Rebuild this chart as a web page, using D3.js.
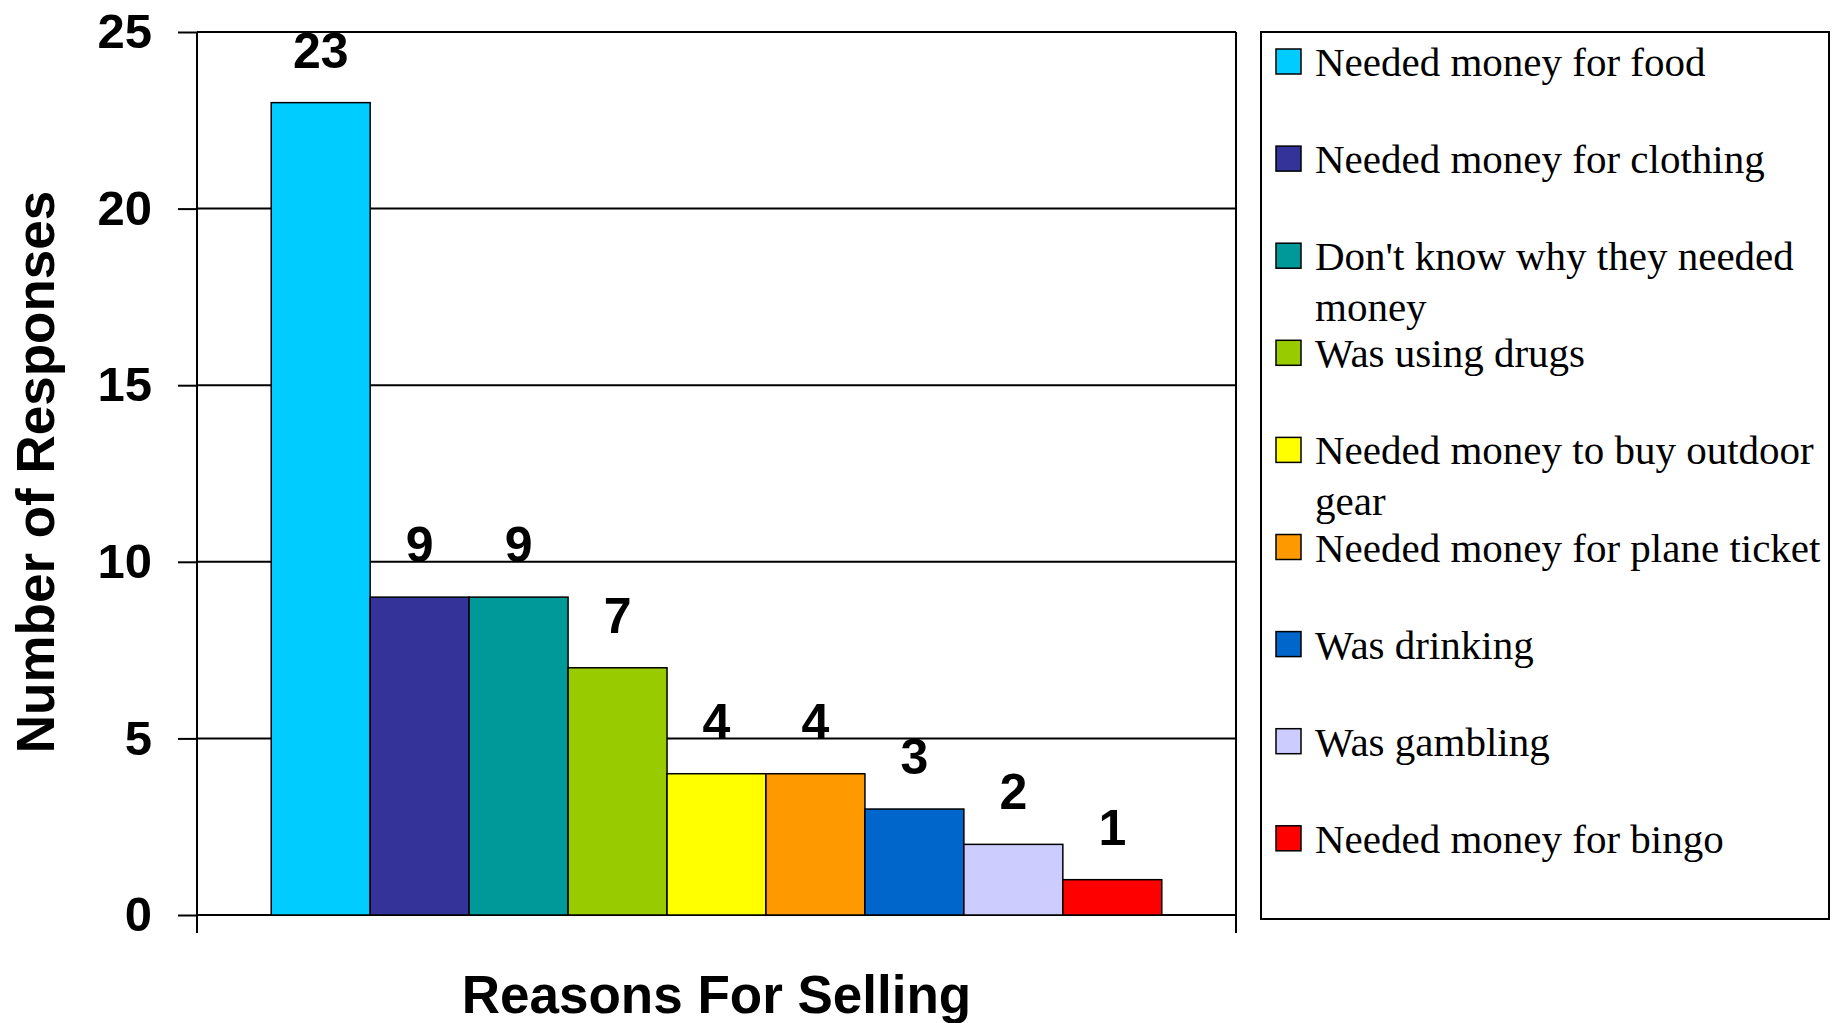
<!DOCTYPE html>
<html>
<head>
<meta charset="utf-8">
<script src="https://cdn.jsdelivr.net/npm/d3@7"></script>
<style>
  html, body { margin: 0; padding: 0; background: #fff; }
  svg { display: block; }
</style>
</head>
<body>
<svg id="chart" width="1837" height="1023"></svg>
<script>
// Reasons given for selling, with the number of responses for each
const reasons = [
  "Needed money for food",
  "Needed money for clothing",
  "Don't know why they needed money",
  "Was using drugs",
  "Needed money to buy outdoor gear",
  "Needed money for plane ticket",
  "Was drinking",
  "Was gambling",
  "Needed money for bingo"
];
const responses = [23, 9, 9, 7, 4, 4, 3, 2, 1];
const barColors = ["#00CCFF", "#333399", "#009999", "#99CC00", "#FFFF00",
                   "#FF9900", "#0066CC", "#CCCCFF", "#FF0000"];
const yTicks = [0, 5, 10, 15, 20, 25];
const xTitle = "Reasons For Selling";
const yTitle = "Number of Responses";

const sans = "'Liberation Sans', Arial, Helvetica, sans-serif";
const serif = "'Liberation Serif', 'Times New Roman', Times, serif";

const svg = d3.select("#chart");

const plot = { left: 197, right: 1236, top: 32, bottom: 915 };

const y = d3.scaleLinear().domain([0, 25]).range([plot.bottom, plot.top]);
const x = d3.scaleBand()
  .domain(reasons)
  .range([plot.left, plot.right])
  .paddingInner(0)
  .paddingOuter(0.75);

// horizontal gridlines
svg.append("g")
  .selectAll("line")
  .data(yTicks)
  .join("line")
  .attr("x1", plot.left).attr("x2", plot.right)
  .attr("y1", d => y(d)).attr("y2", d => y(d))
  .attr("stroke", "#000").attr("stroke-width", 2);

// value axis
const yAxis = svg.append("g")
  .attr("transform", `translate(${plot.left},0)`)
  .call(d3.axisLeft(y).tickValues(yTicks).tickSize(19).tickPadding(26));
yAxis.select(".domain").remove();
yAxis.selectAll(".tick line").attr("stroke", "#000").attr("stroke-width", 2);
yAxis.selectAll(".tick text")
  .attr("font-family", sans).attr("font-weight", "bold")
  .attr("font-size", 49).attr("fill", "#000");

// left and right plot edges, running down past the baseline as category ticks
svg.append("g")
  .selectAll("line")
  .data(x.range())
  .join("line")
  .attr("x1", d => d).attr("x2", d => d)
  .attr("y1", plot.top).attr("y2", plot.bottom + 18)
  .attr("stroke", "#000").attr("stroke-width", 2);

// bars
svg.append("g")
  .selectAll("rect")
  .data(reasons)
  .join("rect")
  .attr("x", d => x(d))
  .attr("y", (d, i) => y(responses[i]))
  .attr("width", x.bandwidth())
  .attr("height", (d, i) => y(0) - y(responses[i]))
  .attr("fill", (d, i) => barColors[i])
  .attr("stroke", "#000").attr("stroke-width", 1.5);

// value labels above bars
svg.append("g")
  .selectAll("text")
  .data(reasons)
  .join("text")
  .attr("x", d => x(d) + x.bandwidth() / 2)
  .attr("y", (d, i) => y(responses[i]) - 35)
  .attr("text-anchor", "middle")
  .attr("font-family", sans).attr("font-weight", "bold")
  .attr("font-size", 50)
  .text((d, i) => responses[i]);

// axis titles
svg.append("text")
  .attr("x", (plot.left + plot.right) / 2)
  .attr("y", 1013)
  .attr("text-anchor", "middle")
  .attr("font-family", sans).attr("font-weight", "bold")
  .attr("font-size", 53)
  .text(xTitle);

svg.append("text")
  .attr("transform", "translate(54,472) rotate(-90)")
  .attr("text-anchor", "middle")
  .attr("font-family", sans).attr("font-weight", "bold")
  .attr("font-size", 53)
  .text(yTitle);

// legend
const legend = { left: 1261, right: 1829, top: 32, bottom: 919 };
svg.append("rect")
  .attr("x", legend.left).attr("y", legend.top)
  .attr("width", legend.right - legend.left)
  .attr("height", legend.bottom - legend.top)
  .attr("fill", "#fff").attr("stroke", "#000").attr("stroke-width", 2);

const firstBaseline = 76, rowStep = 97.1, lineStep = 51;
const textX = 1315, maxTextWidth = 512;

const items = svg.append("g")
  .selectAll("g")
  .data(reasons)
  .join("g")
  .attr("transform", (d, i) => `translate(0,${firstBaseline + i * rowStep})`);

items.append("rect")
  .attr("x", 1276).attr("y", -27)
  .attr("width", 25).attr("height", 25)
  .attr("fill", (d, i) => barColors[i])
  .attr("stroke", "#000").attr("stroke-width", 1.5);

items.append("text")
  .attr("x", textX)
  .attr("font-family", serif)
  .attr("font-size", 41)
  .attr("fill", "#000")
  .each(function (d) {
    // wrap long names onto a second line
    const t = d3.select(this);
    const words = d.split(" ");
    let line = [];
    let tspan = t.append("tspan").attr("x", textX).attr("dy", 0);
    words.forEach(w => {
      line.push(w);
      tspan.text(line.join(" "));
      if (tspan.node().getComputedTextLength() > maxTextWidth && line.length > 1) {
        line.pop();
        tspan.text(line.join(" "));
        line = [w];
        tspan = t.append("tspan").attr("x", textX).attr("dy", lineStep).text(w);
      }
    });
  });
</script>
</body>
</html>
